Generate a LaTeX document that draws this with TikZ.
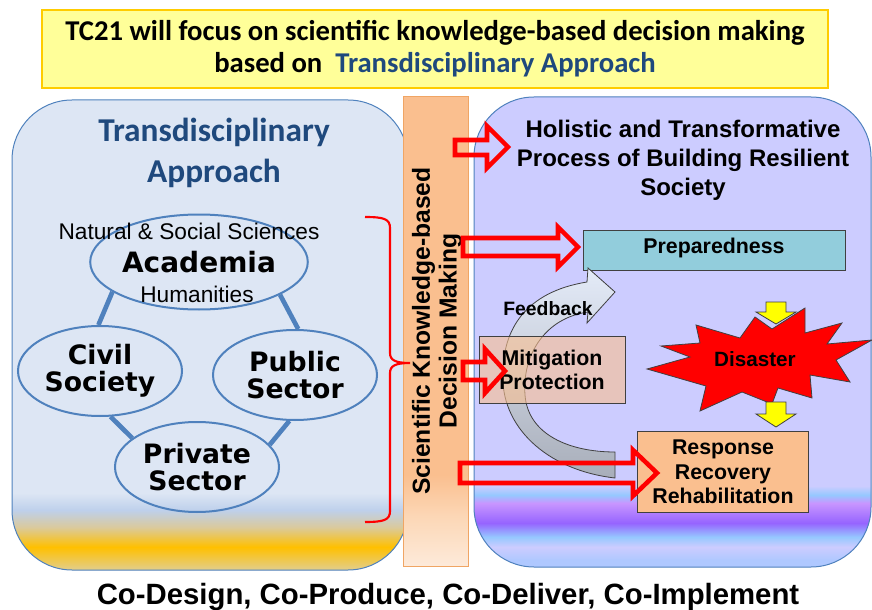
\documentclass[tikz,border=0pt]{standalone}
\usepackage{fontspec}
\setmainfont{Liberation Sans}
\newfontfamily\calibrifont{Carlito}
\newfontfamily\heavyfont{DejaVu Sans}
\usepackage{tikz}
\usetikzlibrary{shapes.geometric}
\definecolor{mylightyellow}{RGB}{255, 255, 153}
\definecolor{mygold}{RGB}{255, 204, 0}
\definecolor{mytitleblue}{RGB}{31, 73, 125}
\definecolor{mypanelblue}{RGB}{221, 230, 244}
\definecolor{mypanelblue2}{RGB}{190, 208, 235}
\definecolor{mytan}{RGB}{218, 202, 158}
\definecolor{mytanlight}{RGB}{226, 206, 140}
\definecolor{mygoldband}{RGB}{255, 192, 0}
\definecolor{myedgeblue}{RGB}{79, 129, 189}
\definecolor{myorange}{RGB}{250, 191, 143}
\definecolor{mybarmid}{RGB}{252, 215, 182}
\definecolor{mybarlight}{RGB}{253, 234, 218}
\definecolor{mybaredge}{RGB}{240, 165, 100}
\definecolor{mylavender}{RGB}{204, 204, 255}
\definecolor{mybluelav}{RGB}{175, 200, 255}
\definecolor{myskyblue}{RGB}{150, 200, 255}
\definecolor{mypinkpurple}{RGB}{200, 150, 255}
\definecolor{mypurple}{RGB}{150, 100, 255}
\definecolor{myteal}{RGB}{146, 205, 220}
\definecolor{mydarkgray}{RGB}{64, 64, 64}
\definecolor{myfeedtop}{RGB}{228, 235, 248}
\definecolor{myfeedbottom}{RGB}{168, 174, 186}
\definecolor{myyellow}{RGB}{255, 255, 0}
\tikzset{every picture/.style={line width=0.75pt}}
\pgfdeclareverticalshading{leftpanelshade}{100bp}{color(0bp)=(mytanlight); color(25bp)=(mytanlight); color(27.45bp)=(mygoldband); color(29.57bp)=(mytan); color(31.38bp)=(mypanelblue2); color(33.19bp)=(mypanelblue); color(100bp)=(mypanelblue)}
\pgfdeclareverticalshading{rightpanelshade}{100bp}{color(0bp)=(mybluelav); color(25.74bp)=(mybluelav); color(27.13bp)=(mylavender); color(28.19bp)=(myskyblue); color(29.68bp)=(mypurple); color(31.81bp)=(mypinkpurple); color(32.66bp)=(myskyblue); color(33.62bp)=(mylavender); color(100bp)=(mylavender)}
\pgfdeclareverticalshading{barshade}{100bp}{color(0bp)=(mybarlight); color(25bp)=(mybarlight); color(30.3bp)=(mybarmid); color(34.7bp)=(myorange); color(100bp)=(myorange)}

\begin{document}
\begin{tikzpicture}[x=0.75pt,y=0.75pt,yscale=-1,xscale=1,
  party/.style={ellipse, draw=myedgeblue, line width=1.5pt, minimum width=123pt, minimum height=67.5pt, inner sep=0pt, align=center, font=\heavyfont\bfseries\fontsize{20}{20}\selectfont},
  tie/.style={myedgeblue, line width=3.5pt},
  stagebox/.style={draw=mydarkgray, line width=0.75pt, inner sep=0pt, align=center, font=\bfseries\fontsize{16}{18.5}\selectfont},
  redarrow/.style={draw=red, line width=3.4pt, line join=miter},
  yellowarrow/.style={fill=myyellow, draw=mydarkgray, line width=0.6pt}]
\useasboundingbox (0,0) rectangle (872,610);
%Shape: Rectangle [id:dp4187203356120994] 
\node [draw=mygold, line width=1pt, fill=mylightyellow, minimum width=589.5pt, minimum height=58.5pt, align=center, font=\calibrifont\bfseries\fontsize{21.5}{24}\selectfont] (banner) at (435,49) {TC21 will focus on scientific knowledge-based decision making\\based on\ \ \textcolor{mytitleblue}{Transdisciplinary Approach}};
%Rounded Rect [id:dp7302914655102861] 
\shadedraw [draw=myedgeblue, line width=0.75pt, shading=leftpanelshade, rounded corners=45pt] (12,100) rectangle (408,570) ;
%Rounded Rect [id:dp2269418837451072] 
\shadedraw [draw=myedgeblue, line width=0.75pt, shading=rightpanelshade, rounded corners=45pt] (474,97) rectangle (871,567) ;
%Shape: Rectangle [id:dp9930165221470513] 
\shadedraw [draw=mybaredge, line width=0.75pt, shading=barshade] (403,97) rectangle (468,566) ;

% Text Node
\node [align=center, text=mytitleblue, font=\calibrifont\bfseries\fontsize{25}{30.75}\selectfont] (tdtitle) at (214,153) {Transdisciplinary\\Approach};
%Shape: Ellipse [id:dp6615274911840208] 
\node [party, minimum width=133.5pt, minimum height=71.25pt, font=\heavyfont\bfseries\fontsize{21}{21}\selectfont] (acad) at (199,262) {Academia};
%Shape: Ellipse [id:dp1250447789363157] 
\node [party] (civil) at (100,371) {Civil\\Society};
%Shape: Ellipse [id:dp3388120547791306] 
\node [party] (public) at (295,375) {Public\\Sector};
%Shape: Ellipse [id:dp8573416250963318] 
\node [party] (private) at (197,467) {Private\\Sector};
%Straight Lines [id:da5921663148087371] 
\draw [tie] (acad.199) -- (civil.92) ;
%Straight Lines [id:da0874410293316428] 
\draw [tie] (acad.338) -- (public.86) ;
%Straight Lines [id:da3140626908847105] 
\draw [tie] (civil.283) -- (private.156) ;
%Straight Lines [id:da7741938560124302] 
\draw [tie] (public.263) -- (private.17) ;
% Text Node
\node [font=\fontsize{17}{19}\selectfont] (sciences) at (189,231) {Natural \& Social Sciences};
% Text Node
\node [font=\fontsize{17}{19}\selectfont] (humanities) at (197,294) {Humanities};
%Curve Lines [id:da4519372800631942] 
\draw [color=red, line width=1.6pt] (365,217) .. controls (384,217) and (390,219) .. (390,228) -- (390,353) .. controls (390,360) and (395,363) .. (410,363) .. controls (395,363) and (390,366) .. (390,373) -- (390,511) .. controls (390,520) and (384,522) .. (365,522) ;

% Text Node
\node [rotate=90, align=center, font=\bfseries\fontsize{18.5}{20}\selectfont] (kbdm) at (437,331) {Scientific Knowledge-based\\Decision Making};
% Text Node
\node [align=center, font=\bfseries\fontsize{18}{21.75}\selectfont] (holistic) at (683,160) {Holistic and Transformative\\Process of Building Resilient\\Society};
%Shape: Rectangle [id:dp0627719930581148] 
\node [stagebox, fill=myteal, minimum width=196.5pt, minimum height=30pt, text depth=6pt] (prep) at (714,250) {Preparedness};
%Down Arrow [id:dp1945503376822461] 
\draw [yellowarrow] (766,302) -- (786,302) -- (786,312) -- (796,312) -- (776,324) -- (756,312) -- (766,312) -- cycle ;
%Shape: Explosion [id:dp5082119630377424] 
\draw [draw=mydarkgray, line width=0.6pt, fill=red] (647,369) -- (690,357) -- (661,346) -- (700,343) -- (696,325) -- (740,338) -- (755,317) -- (772,329) -- (805,308) -- (805,333) -- (842,323) -- (827,344) -- (872,340) -- (836,360) -- (850,382) -- (810,375) -- (812,398) -- (778,388) -- (772,404) -- (742,392) -- (700,411) -- (706,386) -- cycle ;
% Text Node
\node [font=\bfseries\fontsize{15.5}{18}\selectfont] (disaster) at (755,359) {Disaster};
%Down Arrow [id:dp7158829931624307] 
\draw [yellowarrow] (766,402) -- (786,402) -- (786,414) -- (796,414) -- (776,427) -- (756,414) -- (766,414) -- cycle ;
%Curved Arrow [id:dp3364719025591248] 
\draw [draw=mydarkgray, line width=0.6pt, top color=myfeedtop, bottom color=myfeedbottom] (615,478) .. controls (545,470) and (500,425) .. (503,373) .. controls (503,330) and (525,292) .. (587,282) -- (588,268) -- (615,292) -- (587,323) -- (588,312) .. controls (545,318) and (522,355) .. (525,395) .. controls (528,435) and (570,452) .. (615,452) -- cycle ;
%Shape: Rectangle [id:dp2891145053306712] 
\node [stagebox, fill=myorange, fill opacity=0.6, text opacity=1, minimum width=109.5pt, minimum height=50.25pt] (mitig) at (552,370) {Mitigation\\Protection};
%Shape: Rectangle [id:dp6003125587713481] 
\node [stagebox, fill=myorange, minimum width=128.25pt, minimum height=60.75pt] (resp) at (723,472) {Response\\Recovery\\Rehabilitation};
% Text Node
\node [font=\bfseries\fontsize{14.5}{17}\selectfont] (feedback) at (548,309) {Feedback};

%Right Arrow [id:dp8823306151734619] 
\draw [redarrow] (455,140) -- (487,140) -- (487,126) -- (508,147) -- (487,168) -- (487,155) -- (455,155) -- cycle ;
%Right Arrow [id:dp1167395302748823] 
\draw [redarrow] (463,238) -- (558,238) -- (558,227) -- (578,247) -- (558,267) -- (558,256) -- (463,256) -- cycle ;
%Right Arrow [id:dp5403812276659173] 
\draw [redarrow] (463,362) -- (485,362) -- (485,349) -- (505,371) -- (485,393) -- (485,380) -- (463,380) -- cycle ;
%Right Arrow [id:dp3075521912489068] 
\draw [redarrow] (460,463) -- (633,463) -- (633,450) -- (657,473) -- (633,496) -- (633,483) -- (460,483) -- cycle ;

% Text Node
\node [font=\bfseries\fontsize{22}{24}\selectfont] (codesign) at (448,597) {Co-Design, Co-Produce, Co-Deliver, Co-Implement};
\end{tikzpicture}
\end{document}
